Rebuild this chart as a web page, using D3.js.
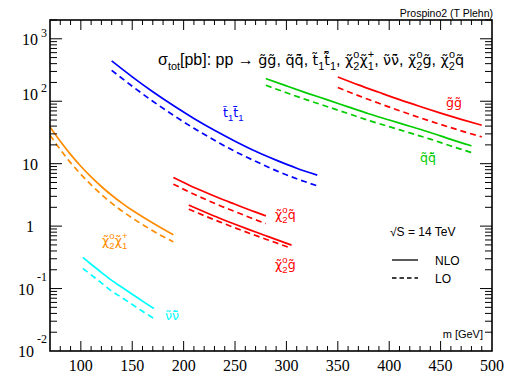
<!DOCTYPE html>
<html><head><meta charset="utf-8">
<script src="https://cdn.jsdelivr.net/npm/d3@7"></script>
<style>body{margin:0;background:#fff} svg{display:block}</style>
</head><body><svg id="c" width="518" height="380"></svg>
<script>
// ---------------- data ----------------
const massStop   = [130,150,170,190,210,230,250,270,290,310,330];
const stopNLO    = [442,246,142,85.4,53,34.2,22.9,15.8,11.4,8.47,6.55];
const stopLO     = [313,174,100,59.6,36.9,23.7,15.7,10.9,7.74,5.74,4.42];

const massGluino = [350,370,390,410,430,450,470,490];
const gluinoNLO  = [245,183,139,106,82.3,64.6,51.3,41.3];
const gluinoLO   = [166,123,92.7,70.6,54.3,42.5,33.6,26.9];

const massSquark = [280,300,320,340,360,380,400,420,440,460,480];
const squarkNLO  = [231,176,135,105,81.3,63.1,50.1,39.8,31.6,24.5,19.3];
const squarkLO   = [180,137,105,81.8,63.5,49.3,39.2,31.1,24.7,19.2,15.1];

const massChaNeu = [70,80,90,100,110,120,130,140,150,160,170,180,190];
const chaNeuNLO  = [38.8,22.9,14.1,9.1,6.15,4.31,3.12,2.34,1.79,1.41,1.12,0.90,0.73];
const chaNeuLO   = [28.6,16.9,10.4,6.75,4.57,3.21,2.33,1.75,1.35,1.06,0.843,0.681,0.561];

const massSnu    = [102,110,120,130,140,150,160,171];
const snuNLO     = [0.316,0.245,0.182,0.135,0.105,0.081,0.063,0.048];
const snuLO      = [0.21,0.166,0.123,0.091,0.0716,0.0556,0.0432,0.0333];

const massNeuSq  = [190,205,220,235,250,265,280];
const neuSqNLO   = [6.01,4.57,3.55,2.79,2.24,1.80,1.46];
const neuSqLO    = [4.70,3.55,2.74,2.14,1.71,1.36,1.10];

const massNeuGl  = [205,220,235,250,265,280,295,305];
const neuGlNLO   = [2.17,1.70,1.34,1.07,0.863,0.70,0.569,0.497];
const neuGlLO    = [1.87,1.47,1.17,0.938,0.759,0.617,0.504,0.44];

const xMajorTicks = [100,150,200,250,300,350,400,450,500];
const yMajorTicks = [0.01,0.1,1,10,100,1000];
const yTickBase   = ["10","10","1","10","10","10"];
const yTickExp    = ["-2","-1","","","2","3"];

// ---------------- drawing ----------------
const svg = d3.select('#c');
const L=50, R=492, T=20, B=351;
const x = d3.scaleLinear().domain([70,500]).range([L,R]);
const y = d3.scaleLog().domain([0.01,2000]).range([B,T]);

const TIL='\u0303', BAR='\u0304';
const sans = "'Liberation Sans', Arial, Helvetica, sans-serif";
const serif = "'Liberation Serif', 'Times New Roman', serif";
const markFont = "'DejaVu Sans', sans-serif";

// parts: string | ['m', s] (letters with diacritics) | ['sub',s] | ['sup',s] | ['subsup',a,b]
function rich(g, px, py, parts, size, color, anchor){
  const t = g.append('text').attr('x',px).attr('y',py)
    .attr('font-family',sans).attr('font-size',size).attr('fill',color)
    .attr('text-anchor',anchor||'start');
  let cur = 0;
  const small = size*0.68;
  parts.forEach(p=>{
    if (typeof p === 'string'){
      t.append('tspan').attr('dy',-cur).text(p); cur=0;
    } else if (p[0]==='m'){
      t.append('tspan').attr('dy',-cur).attr('font-family',markFont)
        .attr('font-size',size*0.9).text(p[1]); cur=0;
    } else if (p[0]==='sub'){
      const s=size*0.32;
      t.append('tspan').attr('dy',s-cur).attr('font-size',small).text(p[1]); cur=s;
    } else if (p[0]==='sup'){
      const s=-size*0.4;
      t.append('tspan').attr('dy',s-cur).attr('font-size',small).text(p[1]); cur=s;
    } else if (p[0]==='subsup'){
      const s1=size*0.32, s2=-size*0.42;
      t.append('tspan').attr('dy',s1-cur).attr('font-size',small).text(p[1]);
      t.append('tspan').attr('dx',-small*0.55).attr('dy',s2-s1).attr('font-size',small).text(p[2]);
      cur=s2;
    }
  });
  return t;
}

const series = [
  {m:massStop,   nlo:stopNLO,   lo:stopLO,   c:'#0000ff'},
  {m:massGluino, nlo:gluinoNLO, lo:gluinoLO, c:'#ff0000'},
  {m:massSquark, nlo:squarkNLO, lo:squarkLO, c:'#00cc00'},
  {m:massChaNeu, nlo:chaNeuNLO, lo:chaNeuLO, c:'#ff8c00'},
  {m:massSnu,    nlo:snuNLO,    lo:snuLO,    c:'#00ffff'},
  {m:massNeuSq,  nlo:neuSqNLO,  lo:neuSqLO,  c:'#ff0000'},
  {m:massNeuGl,  nlo:neuGlNLO,  lo:neuGlLO,  c:'#ff0000'},
];

const line = d3.line().x(d=>x(d[0])).y(d=>y(d[1])).curve(d3.curveMonotoneX);
const plot = svg.append('g');
series.forEach(s=>{
  plot.append('path').attr('d',line(s.m.map((mm,i)=>[mm,s.nlo[i]])))
    .attr('fill','none').attr('stroke',s.c).attr('stroke-width',1.7);
  plot.append('path').attr('d',line(s.m.map((mm,i)=>[mm,s.lo[i]])))
    .attr('fill','none').attr('stroke',s.c).attr('stroke-width',1.7)
    .attr('stroke-dasharray','6,4');
});

const xMinor = d3.range(80,500,10).filter(v=>v%50!==0);
const axG = svg.append('g').attr('stroke','#000').attr('stroke-width',1);
function xt(vals,len){
  vals.forEach(v=>{
    axG.append('line').attr('x1',x(v)).attr('x2',x(v)).attr('y1',B).attr('y2',B-len);
    axG.append('line').attr('x1',x(v)).attr('x2',x(v)).attr('y1',T).attr('y2',T+len);
  });
}
xt(xMajorTicks.filter(v=>v<500),10);
xt(xMinor,5);
const yMinor=[];
[0.01,0.1,1,10,100,1000].forEach(d=>{for(let k=2;k<=9;k++){const v=d*k; if(v<=2000) yMinor.push(v);}});
function yt(vals,len){
  vals.forEach(v=>{
    axG.append('line').attr('x1',L).attr('x2',L+len).attr('y1',y(v)).attr('y2',y(v));
    axG.append('line').attr('x1',R).attr('x2',R-len).attr('y1',y(v)).attr('y2',y(v));
  });
}
yt(yMajorTicks.filter(v=>v>0.01),12);
yt(yMinor,7);

svg.append('rect').attr('x',L).attr('y',T).attr('width',R-L).attr('height',B-T)
  .attr('fill','none').attr('stroke','#000').attr('stroke-width',1.6);

xMajorTicks.forEach(v=>{
  svg.append('text').attr('x',x(v)).attr('y',371).attr('text-anchor','middle')
    .attr('font-family',serif).attr('font-size',16).text(String(v));
});
yMajorTicks.forEach((v,i)=>{
  const base=yTickBase[i], ex=yTickExp[i];
  const neg = ex.startsWith('-');
  const endX = (base==='1'||neg) ? 34 : 38;
  const yy = y(v) + 6 + (v===100 ? -7 : 0);
  svg.append('text').attr('x',endX).attr('y',yy).attr('text-anchor','end')
    .attr('font-family',serif).attr('font-size',16).text(base);
  if (ex){
    svg.append('text').attr('x',endX+3).attr('y',yy-(neg?14:8))
      .attr('font-family',serif).attr('font-size',12).text(ex);
  }
});

const chi = ['m','\u03c7'+TIL];
rich(svg,158,65,['\u03c3',['sub','tot'],'[pb]:  pp \u2192 ',['m','g'+TIL+'g'+TIL],', ',['m','q'+TIL+'q'+TIL+BAR],', ',['m','t'+TIL],['sub','1'],['m','t'+TIL+BAR],['sub','1'],
  ', ',chi,['subsup','2','o'],chi,['subsup','1','+'],', ',['m','\u03bd'+TIL+'\u03bd'+TIL+BAR],', ',chi,['subsup','2','o'],['m','g'+TIL],', ',chi,['subsup','2','o'],['m','q'+TIL]],16,'#000');

rich(svg,223,117,[['m','t'+TIL],['sub','1'],['m','t'+TIL+BAR],['sub','1']],14,'#0000ff');
rich(svg,446,107,[['m','g'+TIL+'g'+TIL]],14,'#ff0000');
rich(svg,420,162,[['m','q'+TIL+'q'+TIL+BAR]],14,'#00cc00');
rich(svg,275,219,[chi,['subsup','2','o'],['m','q'+TIL]],14,'#ff0000');
rich(svg,275,269,[chi,['subsup','2','o'],['m','g'+TIL]],14,'#ff0000');
rich(svg,102,245,[chi,['subsup','2','o'],chi,['subsup','1','+']],14,'#ff8c00');
rich(svg,165,320,[['m','\u03bd'+TIL+'\u03bd'+TIL+BAR]],14,'#00ffff');

svg.append('text').attr('x',390).attr('y',236).attr('font-family',sans).attr('font-size',12).text('\u221aS = 14 TeV');
svg.append('line').attr('x1',392).attr('x2',418).attr('y1',260).attr('y2',260).attr('stroke','#000').attr('stroke-width',1.3);
svg.append('text').attr('x',435).attr('y',265).attr('font-family',sans).attr('font-size',12).text('NLO');
svg.append('line').attr('x1',392).attr('x2',418).attr('y1',278).attr('y2',278).attr('stroke','#000').attr('stroke-width',1.3).attr('stroke-dasharray','4.5,3');
svg.append('text').attr('x',435).attr('y',283).attr('font-family',sans).attr('font-size',12).text('LO');

svg.append('text').attr('x',483).attr('y',338).attr('text-anchor','end').attr('font-family',sans).attr('font-size',11).text('m [GeV]');
svg.append('text').attr('x',493).attr('y',17).attr('text-anchor','end').attr('font-family',sans).attr('font-size',10.5).text('Prospino2 (T Plehn)');
</script></body></html>
